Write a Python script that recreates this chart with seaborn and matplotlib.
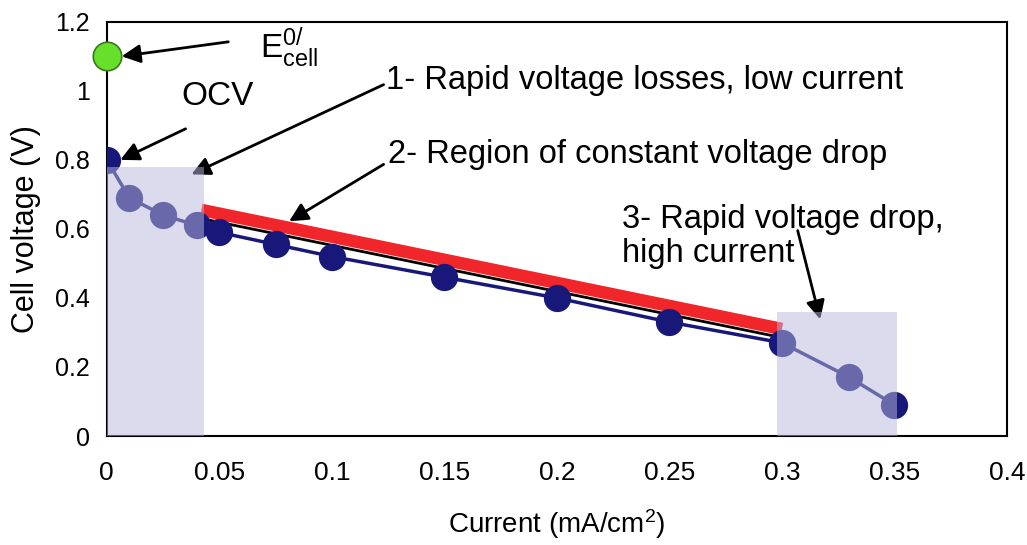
import matplotlib
matplotlib.use('Agg')
import matplotlib.pyplot as plt
import matplotlib.patches as patches
import pandas as pd
import seaborn as sns

# 데이터
current = [0, 0.01, 0.025, 0.04, 0.05, 0.075, 0.1, 0.15, 0.2, 0.25, 0.3, 0.33, 0.35]
voltage = [0.80, 0.69, 0.64, 0.61, 0.59, 0.555, 0.52, 0.46, 0.40, 0.33, 0.27, 0.17, 0.09]
e_cell = 1.1
fit_x = [0.042, 0.3]
red_y = [0.655, 0.31]
black_y = [0.63, 0.285]
x_ticks = [0, 0.05, 0.1, 0.15, 0.2, 0.25, 0.3, 0.35, 0.4]
x_labels = ['0', '0.05', '0.1', '0.15', '0.2', '0.25', '0.3', '0.35', '0.4']
y_ticks = [0, 0.2, 0.4, 0.6, 0.8, 1, 1.2]
y_labels = ['0', '0.2', '0.4', '0.6', '0.8', '1', '1.2']

df = pd.DataFrame({'current': current, 'voltage': voltage})

sns.set_style('white')
plt.rcParams['font.family'] = ['Liberation Sans', 'DejaVu Sans']
plt.rcParams['text.color'] = 'black'
plt.rcParams['axes.labelcolor'] = 'black'
plt.rcParams['mathtext.fontset'] = 'custom'
plt.rcParams['mathtext.rm'] = 'Liberation Sans'
plt.rcParams['mathtext.it'] = 'Liberation Sans'

fig = plt.figure(figsize=(10.27, 5.45), dpi=100)
ax = fig.add_axes([0.104, 0.20, 0.8765, 0.76])

navy = '#18187a'
sns.lineplot(data=df, x='current', y='voltage', color=navy, lw=2.5, ax=ax, zorder=2)
sns.scatterplot(data=df, x='current', y='voltage', color=navy, s=330, edgecolor=navy, ax=ax, zorder=3)
ax.plot(fit_x, black_y, color='black', lw=2, zorder=2)
ax.plot(fit_x, red_y, color='#f0262a', lw=9, solid_capstyle='butt', zorder=2)
ax.scatter([0], [e_cell], s=420, color='#66e02a', edgecolor='#3a7a1a', lw=1.2, zorder=4, clip_on=False)

# 음영 영역
for x0, x1, top in [(0, 0.043, 0.78), (0.298, 0.351, 0.36)]:
    ax.add_patch(patches.Rectangle((x0, 0), x1 - x0, top, facecolor='#b8b8dc',
                                   alpha=0.5, edgecolor='none', zorder=5))

ax.set_xlim(0, 0.4)
ax.set_ylim(0, 1.2)
ax.set_xticks(x_ticks)
ax.set_xticklabels(x_labels, fontsize=19)
ax.set_yticks(y_ticks)
ax.set_yticklabels(y_labels, fontsize=18)
ax.tick_params(length=4, direction='out', pad=14, colors='black')
ax.tick_params(axis='y', pad=8)
for s in ax.spines.values():
    s.set_color('black')
    s.set_linewidth(1.5)
ax.set_xlabel('Current (mA/cm$^2$)', fontsize=20, labelpad=16)
ax.set_ylabel('Cell voltage (V)', fontsize=22, labelpad=10)

arrow = dict(arrowstyle='-|>', color='black', lw=2, mutation_scale=28, shrinkA=0, shrinkB=0)
ax.annotate('', xy=(0.0066, 1.10), xytext=(0.054, 1.142), arrowprops=arrow)
ax.text(0.068, 1.125, r'E$^{0/}_{\mathrm{cell}}$', fontsize=24, va='center', ha='left')
ax.text(0.033, 0.985, 'OCV', fontsize=24, va='center', ha='left')
ax.annotate('', xy=(0.006, 0.80), xytext=(0.035, 0.89), arrowprops=arrow)
ax.text(0.124, 1.03, '1- Rapid voltage losses, low current', fontsize=23.5, va='center', ha='left')
ax.annotate('', xy=(0.0376, 0.758), xytext=(0.123, 1.018), arrowprops=arrow)
ax.text(0.125, 0.815, '2- Region of constant voltage drop', fontsize=23.5, va='center', ha='left')
ax.annotate('', xy=(0.081, 0.622), xytext=(0.123, 0.787), arrowprops=arrow)
ax.text(0.229, 0.578, '3- Rapid voltage drop,\nhigh current', fontsize=23.5,
        va='center', ha='left', linespacing=1.15)
ax.annotate('', xy=(0.317, 0.338), xytext=(0.307, 0.595), arrowprops=arrow)

plt.savefig('out.png', dpi=100)
